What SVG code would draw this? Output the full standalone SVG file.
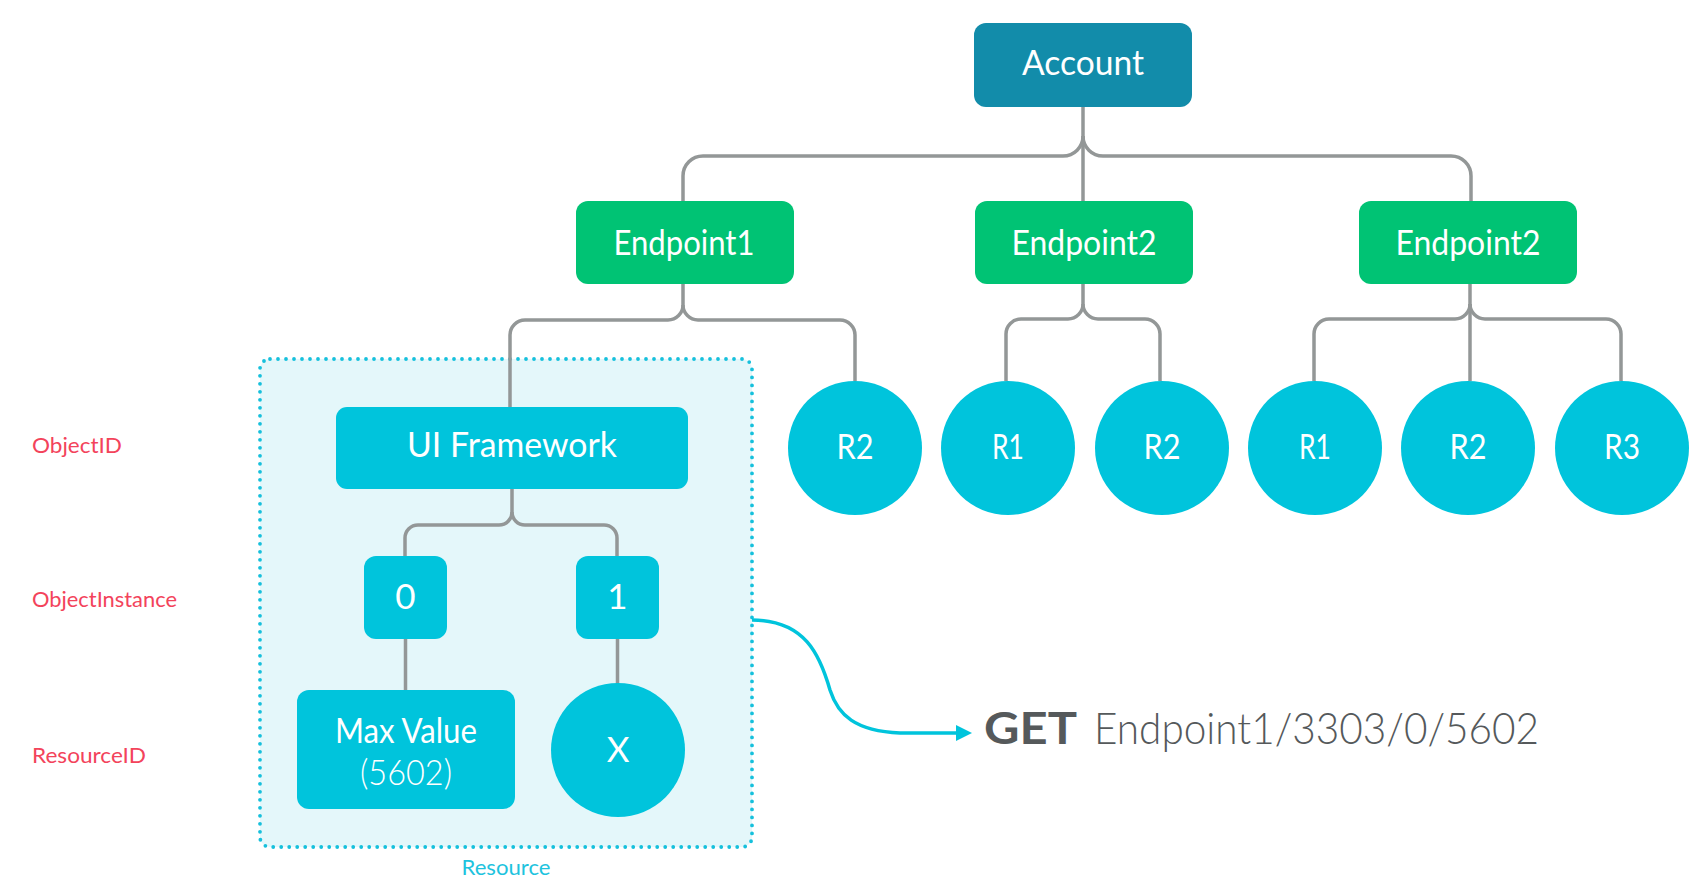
<svg xmlns="http://www.w3.org/2000/svg" width="1700" height="892" viewBox="0 0 1700 892">
<defs>
<style>
.t{font-family:Lato,"Open Sans","DejaVu Sans",sans-serif;fill:#fff;text-anchor:middle;font-size:35px}
.lbl{font-family:Lato,"Open Sans","DejaVu Sans",sans-serif;fill:#f3435b;font-size:22px}
.conn{fill:none;stroke:#939797;stroke-width:3.5}
.acc{fill:#128caa}
.ep{fill:#00c374}
.cy{fill:#00c4dc}
</style>
</defs>
<rect width="1700" height="892" fill="#fff"/>
<g id="resource-area">
<rect x="260" y="359" width="492" height="488" rx="10" fill="#e4f7fa" stroke="#16c0dc" stroke-width="3.8" stroke-dasharray="0 8" stroke-linecap="round"/>
<text x="506" y="875" style="font-family:Lato,'Open Sans',sans-serif;font-size:21px;fill:#1ec3de;text-anchor:middle" textLength="89" lengthAdjust="spacingAndGlyphs">Resource</text>
</g>
<g id="connectors">
<path class="conn" d="M1083,107 V201"/>
<path class="conn" d="M1083,136 A20,20 0 0 1 1063,156 H703 A20,20 0 0 0 683,176 V201"/>
<path class="conn" d="M1083,136 A20,20 0 0 0 1103,156 H1451 A20,20 0 0 1 1471,176 V201"/>
<path class="conn" d="M683,284 V305 A15,15 0 0 1 668,320 H525 A15,15 0 0 0 510,335 V407"/>
<path class="conn" d="M683,305 A15,15 0 0 0 698,320 H840 A15,15 0 0 1 855,335 V381"/>
<path class="conn" d="M1083,284 V304 A15,15 0 0 1 1068,319 H1021 A15,15 0 0 0 1006,334 V381"/>
<path class="conn" d="M1083,304 A15,15 0 0 0 1098,319 H1145 A15,15 0 0 1 1160,334 V381"/>
<path class="conn" d="M1470,284 V381"/>
<path class="conn" d="M1470,304 A15,15 0 0 1 1455,319 H1329 A15,15 0 0 0 1314,334 V381"/>
<path class="conn" d="M1470,304 A15,15 0 0 0 1485,319 H1606 A15,15 0 0 1 1621,334 V381"/>
<path class="conn" d="M512,489 V512 A13,13 0 0 1 499,525 H418 A13,13 0 0 0 405,538 V556"/>
<path class="conn" d="M512,512 A13,13 0 0 0 525,525 H604 A13,13 0 0 1 617,538 V556"/>
<path class="conn" d="M405.5,639 V690"/>
<path class="conn" d="M617.5,639 V684"/>
<path d="M752,620 C805,620 820,655 830,690 C838,715 855,731 900,733 H958" fill="none" stroke="#00c4dc" stroke-width="3.5"/>
<polygon points="956,725 972,733 956,741" fill="#00c4dc"/>
</g>
<g id="account"><rect class="acc" x="974" y="23" width="218" height="84" rx="12"/><text class="t" x="1083" y="75" textLength="122" lengthAdjust="spacingAndGlyphs">Account</text></g>
<g id="endpoint1"><rect class="ep" x="576" y="201" width="218" height="83" rx="12"/><text class="t" x="684" y="255" textLength="141" lengthAdjust="spacingAndGlyphs">Endpoint1</text></g>
<g id="endpoint2a"><rect class="ep" x="975" y="201" width="218" height="83" rx="12"/><text class="t" x="1084" y="255" textLength="145" lengthAdjust="spacingAndGlyphs">Endpoint2</text></g>
<g id="endpoint2b"><rect class="ep" x="1359" y="201" width="218" height="83" rx="12"/><text class="t" x="1468" y="255" textLength="145" lengthAdjust="spacingAndGlyphs">Endpoint2</text></g>
<g id="e1-r2"><circle class="cy" cx="855" cy="448" r="67"/><text class="t" x="855" y="459" textLength="37" lengthAdjust="spacingAndGlyphs">R2</text></g>
<g id="e2a-r1"><circle class="cy" cx="1008" cy="448" r="67"/><text class="t" x="1008" y="459" textLength="32" lengthAdjust="spacingAndGlyphs">R1</text></g>
<g id="e2a-r2"><circle class="cy" cx="1162" cy="448" r="67"/><text class="t" x="1162" y="459" textLength="37" lengthAdjust="spacingAndGlyphs">R2</text></g>
<g id="e2b-r1"><circle class="cy" cx="1315" cy="448" r="67"/><text class="t" x="1315" y="459" textLength="32" lengthAdjust="spacingAndGlyphs">R1</text></g>
<g id="e2b-r2"><circle class="cy" cx="1468" cy="448" r="67"/><text class="t" x="1468" y="459" textLength="37" lengthAdjust="spacingAndGlyphs">R2</text></g>
<g id="e2b-r3"><circle class="cy" cx="1622" cy="448" r="67"/><text class="t" x="1622" y="459" textLength="36" lengthAdjust="spacingAndGlyphs">R3</text></g>
<g id="ui-framework"><rect class="cy" x="336" y="407" width="352" height="82" rx="11"/><text class="t" x="512" y="457" textLength="210" lengthAdjust="spacingAndGlyphs">UI Framework</text></g>
<g id="instance0"><rect class="cy" x="364" y="556" width="83" height="83" rx="12"/><text class="t" x="405.5" y="609">0</text></g>
<g id="instance1"><rect class="cy" x="576" y="556" width="83" height="83" rx="12"/><text class="t" x="617.5" y="609">1</text></g>
<g id="max-value"><rect class="cy" x="297" y="690" width="218" height="119" rx="12"/><text class="t" x="406" y="743" textLength="142" lengthAdjust="spacingAndGlyphs">Max Value</text><text class="t" x="406" y="785" style="font-weight:300" textLength="92" lengthAdjust="spacingAndGlyphs">(5602)</text></g>
<g id="resource-x"><circle class="cy" cx="618" cy="750" r="67"/><text class="t" x="618" y="762">X</text></g>
<g id="side-labels">
<text class="lbl" x="32" y="453" textLength="90" lengthAdjust="spacingAndGlyphs">ObjectID</text>
<text class="lbl" x="32" y="607" textLength="145" lengthAdjust="spacingAndGlyphs">ObjectInstance</text>
<text class="lbl" x="32" y="763" textLength="114" lengthAdjust="spacingAndGlyphs">ResourceID</text>
</g>
<g id="get-request">
<text x="984" y="744" style="font-family:Lato,'Open Sans',sans-serif;font-size:44px;font-weight:700;fill:#55595b" textLength="93" lengthAdjust="spacingAndGlyphs">GET</text>
<text x="1094" y="744" style="font-family:Lato,'Open Sans',sans-serif;font-size:44px;font-weight:300;fill:#55595b" textLength="445" lengthAdjust="spacingAndGlyphs">Endpoint1/3303/0/5602</text>
</g>
</svg>
